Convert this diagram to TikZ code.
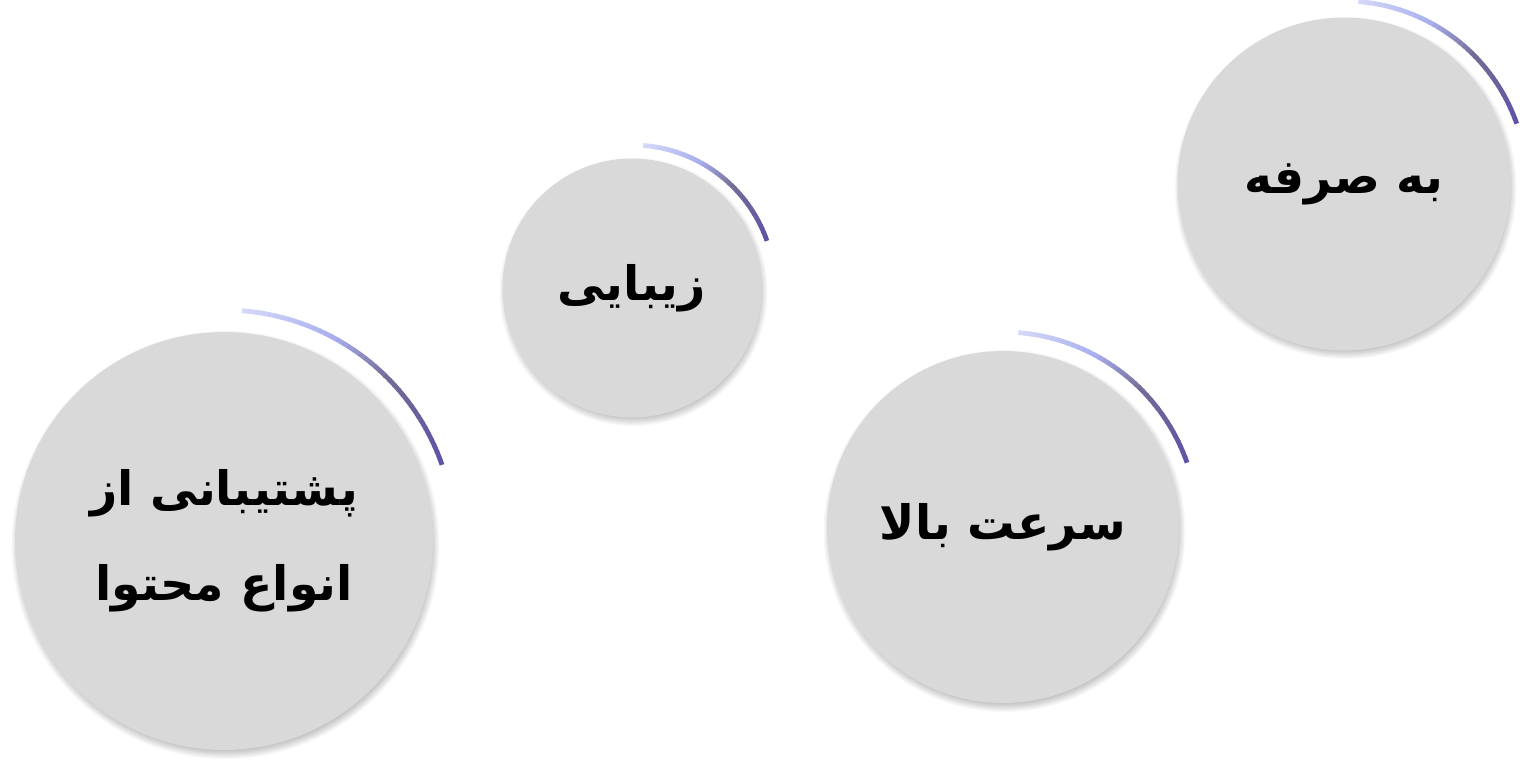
\documentclass[tikz,border=0pt]{standalone}
\usepackage{fontspec}
\TeXXeTstate=1
\newfontfamily\arabicfont[Script=Arabic]{DejaVu Sans}
\definecolor{circfill}{HTML}{D9D9D9}
\definecolor{gA}{RGB}{212,216,248}
\definecolor{gB}{RGB}{168,174,238}
\definecolor{gC}{RGB}{116,108,150}
\definecolor{gD}{RGB}{94,84,166}
\tikzset{
  bubble/.style={circle, fill=circfill, inner sep=0pt,
    font=\arabicfont\bfseries\fontsize{27}{54}\selectfont, align=center},
  arcline/.style={line width=2.7pt, line cap=butt},
  shadowdisc/.style={fill=black, fill opacity=0.028}
}
\newcommand\softshadow[2]{% #1 coordinate, #2 radius in px
  \foreach \k in {0,...,11}{%
    \pgfmathsetmacro\rr{#2+5-\k*1.1}%
    \fill[shadowdisc] ([shift={(1.5,-4)}]#1) circle[radius=\rr];
  }%
}
\newcommand\gradarc[2]{%
  \foreach \i in {0,...,39}{%
    \pgfmathsetmacro\a{85.5-\i*1.65}%
    \pgfmathsetmacro\b{\a-1.9}%
    \ifnum\i<14
      \pgfmathsetmacro\p{100*\i/14}\colorlet{segc}{gB!\p!gA}%
    \else\ifnum\i<24
      \pgfmathsetmacro\p{100*(\i-14)/10}\colorlet{segc}{gC!\p!gB}%
    \else
      \pgfmathsetmacro\p{100*(\i-24)/15}\colorlet{segc}{gD!\p!gC}%
    \fi\fi
    \draw[arcline, draw=segc] (#1.center) ++(\a:#2) arc[start angle=\a, end angle=\b, radius=#2];
  }%
}
\begin{document}
\begin{tikzpicture}[x=0.02cm, y=0.02cm]
\fill[white] (0,0) rectangle (1527,774);
\useasboundingbox (0,0) rectangle (1527,774);
\coordinate (p1) at (224,233);
\coordinate (p2) at (632,486);
\coordinate (p3) at (1003,247);
\coordinate (p4) at (1344,590);
\softshadow{p1}{209}
\softshadow{p2}{129}
\softshadow{p3}{176}
\softshadow{p4}{166}
\node[bubble, minimum size=8.36cm] (c1) at (p1) {\beginR پشتیبانی از\endR\\\beginR انواع محتوا\endR};
\node[bubble, minimum size=5.18cm] (c2) at (p2) {\beginR زیبایی\endR};
\node[bubble, minimum size=7.04cm] (c3) at (p3) {\beginR سرعت بالا\endR};
\node[bubble, minimum size=6.66cm] (c4) at (p4) {\beginR به صرفه\endR};
\gradarc{c1}{4.62cm}
\gradarc{c2}{2.86cm}
\gradarc{c3}{3.9cm}
\gradarc{c4}{3.66cm}
\end{tikzpicture}
\end{document}
